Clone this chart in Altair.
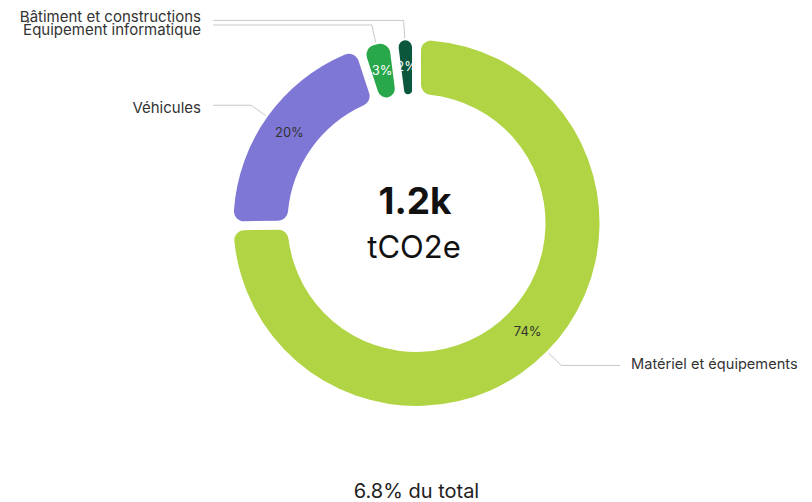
import altair as alt
import pandas as pd

categories = ["Matériel et équipements", "Véhicules", "Équipement informatique", "Bâtiment et constructions"]
shares = [74, 20, 3, 2]
colors = ["#b0d443", "#7f77d5", "#29a84b", "#0a573c"]
pct_text_colors = ["#333333", "#333333", "#ffffff", "#ffffff"]
label_nudge = [0, 3, 5.5, -3.5]
center_value = "1.2k"
center_unit = "tCO2e"
footer = "6.8% du total"

df = pd.DataFrame({
    "category": categories,
    "value": shares,
    "order": list(range(len(categories))),
    "pct": [f"{v}%" for v in shares],
    "tcolor": pct_text_colors,
    "nudge": label_nudge,
})

CX, CY = 408.5, 215
R_IN, R_OUT = 129, 183
R1, R2 = 185, 203
XL, XR = 205, 612
GAP_L, GAP_R = 12, 11
FONT = "Inter"

base = alt.Chart(df)

arcs = base.mark_arc(innerRadius=R_IN, outerRadius=R_OUT, cornerRadius=10, padAngle=0.04).encode(
    theta=alt.Theta("value:Q", stack=True),
    order=alt.Order("order:Q"),
    color=alt.Color("category:N", scale=alt.Scale(domain=categories, range=colors), legend=None),
    x=alt.value(CX),
    y=alt.value(CY),
)

pct = base.mark_text(radius=(R_IN + R_OUT) / 2, font=FONT, fontSize=13, baseline="middle", align="center").encode(
    theta=alt.Theta("value:Q", stack=True),
    order=alt.Order("order:Q"),
    text="pct:N",
    color=alt.Color("tcolor:N", scale=None),
    x=alt.value(CX),
    y=alt.value(CY),
)

geo = (
    base.transform_joinaggregate(total="sum(value)")
    .transform_window(cum="sum(value)", sort=[alt.SortField("order")])
    .transform_calculate(mid="2*PI*(datum.cum - datum.value/2)/datum.total")
    .transform_calculate(x1=f"{CX}+{R1}*sin(datum.mid)")
    .transform_calculate(y1=f"{CY}-{R1}*cos(datum.mid)")
    .transform_calculate(x2=f"{CX}+{R2}*sin(datum.mid)")
    .transform_calculate(y2=f"{CY}-{R2}*cos(datum.mid)")
    .transform_calculate(side="sin(datum.mid) < 0 ? 'L' : 'R'")
    .transform_calculate(x3=f"datum.side == 'L' ? {XL} : {XR}")
    .transform_calculate(xt=f"datum.side == 'L' ? {XL - GAP_L} : {XR + GAP_R}")
    .transform_calculate(yt="datum.y2 + datum.nudge")
)

diag = geo.mark_rule(color="#c8c8c8", strokeWidth=1).encode(
    x=alt.X("x1:Q", scale=None, axis=None),
    y=alt.Y("y1:Q", scale=None, axis=None),
    x2="x2:Q",
    y2="y2:Q",
)
horiz = geo.mark_rule(color="#c8c8c8", strokeWidth=1).encode(
    x=alt.X("x2:Q", scale=None, axis=None),
    y=alt.Y("y2:Q", scale=None, axis=None),
    x2="x3:Q",
)

lab_l = geo.transform_filter("datum.side == 'L'").mark_text(
    align="right", baseline="middle", font=FONT, fontSize=15, color="#333333"
).encode(x=alt.X("xt:Q", scale=None, axis=None), y=alt.Y("yt:Q", scale=None, axis=None), text="category:N")
lab_r = geo.transform_filter("datum.side == 'R'").mark_text(
    align="left", baseline="middle", font=FONT, fontSize=14.6, color="#333333"
).encode(x=alt.X("xt:Q", scale=None, axis=None), y=alt.Y("yt:Q", scale=None, axis=None), text="category:N")

cdf = pd.DataFrame({"t": [center_value]})
udf = pd.DataFrame({"t": [center_unit]})
fdf = pd.DataFrame({"t": [footer]})

c_val = alt.Chart(cdf).mark_text(font=FONT, fontSize=37, fontWeight="bold", color="#111111", baseline="middle").encode(
    text="t:N", x=alt.value(CX - 1.5), y=alt.value(CY - 20))
c_unit = alt.Chart(udf).mark_text(font=FONT, fontSize=31, color="#111111", baseline="middle").encode(
    text="t:N", x=alt.value(CX - 2.5), y=alt.value(CY + 26))
foot = alt.Chart(fdf).mark_text(font=FONT, fontSize=20, color="#222222", baseline="middle").encode(
    text="t:N", x=alt.value(CX), y=alt.value(483.5))

chart = alt.layer(arcs, pct, diag, horiz, lab_l, lab_r, c_val, c_unit, foot).properties(
    width=796, height=494, padding=0,
    autosize=alt.AutoSizeParams(type="none"),
    background="white",
).configure_view(stroke=None)

chart.save("out.html", embed_options={"renderer": "svg", "actions": False})
